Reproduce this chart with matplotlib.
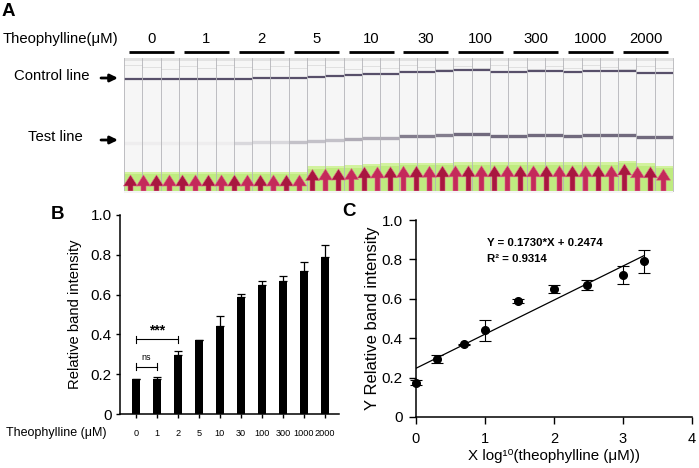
import numpy as np
import matplotlib
matplotlib.use('Agg')
import matplotlib.pyplot as plt
from matplotlib.patches import Rectangle, Polygon

plt.rcParams['font.family'] = ['Liberation Sans', 'DejaVu Sans']

# ---------------- data ----------------
conc_labels = ['0', '1', '2', '5', '10', '30', '100', '300', '1000', '2000']
band_intensity = [0.175, 0.175, 0.295, 0.37, 0.44, 0.59, 0.65, 0.67, 0.72, 0.79]
band_error = [0.003, 0.012, 0.02, 0.003, 0.053, 0.011, 0.02, 0.025, 0.045, 0.057]
log_conc = [0.0, 0.301, 0.699, 1.0, 1.477, 2.0, 2.477, 3.0, 3.301]
fit_intensity = band_intensity[1:]
fit_error = band_error[1:]
fit_slope = 0.1730
fit_intercept = 0.2474
fit_r2 = 0.9314
y_ticks = [0, 0.2, 0.4, 0.6, 0.8, 1.0]
y_tick_labels = ['0', '0.2', '0.4', '0.6', '0.8', '1.0']
c_x_ticks = [0, 1, 2, 3, 4]

# photo of the strips (3 strips per concentration), pixel geometry of the photo
control_line_y = [79.3, 79.3, 79.0, 79.0, 79.0, 79.0, 78.5, 78.3, 78.0, 77.5,
                  76.7, 76.0, 75.0, 74.0, 74.0, 71.7, 71.7, 70.5, 70.0, 70.0,
                  71.7, 71.7, 70.7, 70.7, 71.7, 70.7, 70.7, 70.7, 72.7, 73.3]
green_top_y = [171.5] * 10 + [166, 165.5, 165, 163.5, 163.3, 162.7, 162.7, 162.5, 162.3, 162.3,
                              162.3, 162.3, 162.3, 162.3, 162.3, 162.3, 162.3, 160.5, 163.3, 165.7]

W, H = 699, 468
fig = plt.figure(figsize=(W / 100, H / 100), dpi=100)

# ---------------- panel A (pixel coordinates) ----------------
axA = fig.add_axes([0, 0, 1, 1])
axA.set_xlim(0, W)
axA.set_ylim(H, 0)
axA.axis('off')

txt_fs = 10.7
axA.text(2, 12, 'A', fontsize=13.5, fontweight='bold', va='center', ha='left')
axA.text(3, 38.5, 'Theophylline(μM)', fontsize=txt_fs, va='center', ha='left')

strip_x0, strip_w = 124.0, 18.3
photo_top, photo_bottom = 58.0, 193.0
n_strips = len(control_line_y)
for i, lab in enumerate(conc_labels):
    cx = strip_x0 + (3 * i + 1.5) * strip_w
    axA.text(cx, 39, lab, fontsize=txt_fs, ha='center', va='center')
    axA.plot([cx - 22.5, cx + 22.5], [52, 52], color='black', lw=2.0, solid_capstyle='butt')

axA.text(14, 76, 'Control line', fontsize=txt_fs, va='center', ha='left')
axA.text(28, 137, 'Test line', fontsize=txt_fs, va='center', ha='left')
for yy in (78, 140):
    axA.annotate('', xy=(118, yy), xytext=(101, yy),
                 arrowprops=dict(arrowstyle='-|>,head_length=0.45,head_width=0.22',
                                 lw=2.0, color='black', shrinkA=0, shrinkB=0))

# photo background
axA.add_patch(Rectangle((strip_x0, photo_top), n_strips * strip_w, photo_bottom - photo_top,
                        facecolor='#efefef', edgecolor='none', zorder=1))
for s in range(n_strips):
    x0 = strip_x0 + s * strip_w
    g = s // 3
    axA.add_patch(Rectangle((x0, photo_top), strip_w, photo_bottom - photo_top,
                            facecolor='#f6f6f6', edgecolor='none', zorder=1.2))
    # strip head
    head_h = 4 + (s * 7 % 5)
    axA.add_patch(Rectangle((x0, photo_top), strip_w, 2.5, facecolor='#e2e2e2',
                            edgecolor='none', zorder=1.3))
    axA.plot([x0, x0 + strip_w], [photo_top + 2.5 + head_h] * 2, color='#dcdcdc', lw=0.6, zorder=1.3)
    # control line
    cy = control_line_y[s]
    axA.plot([x0, x0 + strip_w], [cy, cy], color='#58506a', lw=1.6, zorder=2,
             solid_capstyle='butt')
    # test line, darkness follows the band intensity of the group
    a = float(np.clip((band_intensity[g] - 0.2) / 0.45, 0.06, 1.0))
    axA.plot([x0, x0 + strip_w], [cy + 64, cy + 64], color='#5a5268', lw=2.4, alpha=0.85 * a,
             zorder=2, solid_capstyle='butt')
    # green pad
    gt = green_top_y[s]
    axA.add_patch(Rectangle((x0, gt), strip_w, photo_bottom - 2 - gt, facecolor='#bfeb80',
                            edgecolor='none', zorder=2))
    axA.add_patch(Rectangle((x0, gt), strip_w, 2.5, facecolor='#d2f29e',
                            edgecolor='none', zorder=2.1))
    # separators
    axA.plot([x0, x0], [photo_top, photo_bottom - 2], color='#b4b4b8', lw=0.6, zorder=2.5)
axA.plot([strip_x0 + n_strips * strip_w] * 2, [photo_top, photo_bottom - 2], color='#b4b4b8', lw=0.6, zorder=2.5)

# red arrows on the sample pads
arrow_step = 13.0
n_arrows = int(n_strips * strip_w / arrow_step)
for k in range(n_arrows):
    cx = strip_x0 + (k + 0.5) * arrow_step
    s = min(int((cx - strip_x0) // strip_w), n_strips - 1)
    tip = green_top_y[s] + 3.5
    base = photo_bottom - 2
    mid = tip + 11
    col = '#a8173f' if k % 2 == 0 else '#c42a5a'
    poly = [(cx - 7, mid), (cx, tip), (cx + 7, mid), (cx + 2.5, mid), (cx + 2.5, base),
            (cx - 2.5, base), (cx - 2.5, mid)]
    axA.add_patch(Polygon(poly, closed=True, facecolor=col, edgecolor='#e0608a', lw=0.4, zorder=3))
axA.add_patch(Rectangle((strip_x0, photo_bottom - 2.5), n_strips * strip_w, 2.5,
                        facecolor='#f4f4f4', edgecolor='none', zorder=3.5))

# ---------------- panel B ----------------
axB = fig.add_axes([120 / W, 1 - 414 / H, (339 - 120) / W, (414 - 215) / H])
axB.set_facecolor('none')
xb = np.arange(len(conc_labels))
axB.bar(xb, band_intensity, width=0.41, color='black', zorder=2)
axB.errorbar(xb, band_intensity, yerr=[np.zeros(len(xb)), band_error], fmt='none',
             ecolor='black', elinewidth=0.9, capsize=3.2, capthick=0.9, zorder=3)
axB.set_xlim(-0.76, 9.67)
axB.set_ylim(0, 1)
axB.set_xticks(xb)
axB.set_xticklabels(conc_labels, fontsize=6.6)
axB.set_yticks(y_ticks)
axB.set_yticklabels(y_tick_labels, fontsize=11)
for sp in ('top', 'right'):
    axB.spines[sp].set_visible(False)
for sp in ('left', 'bottom'):
    axB.spines[sp].set_linewidth(1.1)
axB.tick_params(axis='both', direction='out', length=3, width=1.0)
axB.tick_params(axis='x', pad=7.5)
axB.tick_params(axis='y', pad=3)
axB.set_ylabel('Relative band intensity', fontsize=10.6, va='center')
axB.yaxis.set_label_coords((75 - 120) / 219, 0.5)
fig.text(107 / W, 1 - 433 / H, 'Theophylline (μM)', fontsize=9, ha='right', va='center')
fig.text(57 / W, 1 - 215 / H, 'B', fontsize=13.5, fontweight='bold', ha='center', va='center')

# significance brackets
def bracket(x1, x2, y, label, fs, weight, dy):
    axB.plot([x1, x2], [y, y], color='black', lw=0.8)
    for xx in (x1, x2):
        axB.plot([xx, xx], [y - 0.017, y + 0.017], color='black', lw=0.8)
    axB.text((x1 + x2) / 2, y + dy, label, fontsize=fs, fontweight=weight, ha='center', va='center')

bracket(xb[0], xb[2], 0.376, '***', 10, 'bold', 0.042)
bracket(xb[0], xb[1], 0.237, 'ns', 6.5, 'normal', 0.045)

# ---------------- panel C ----------------
axC = fig.add_axes([416 / W, 1 - 417 / H, 276 / W, 197 / H])
axC.set_facecolor('none')
axC.errorbar(log_conc, fit_intensity, yerr=fit_error, fmt='o', color='black', markersize=5.5,
             ecolor='black', elinewidth=0.8, capsize=4, capthick=0.8, clip_on=False, zorder=3)
xf = np.array([0, max(log_conc)])
axC.plot(xf, fit_slope * xf + fit_intercept, color='black', lw=0.9, zorder=2)
axC.set_xlim(0, 4)
axC.set_ylim(0, 1)
axC.set_xticks(c_x_ticks)
axC.set_xticklabels([str(v) for v in c_x_ticks], fontsize=10.5)
axC.set_yticks(y_ticks)
axC.set_yticklabels(y_tick_labels, fontsize=11)
for sp in ('top', 'right'):
    axC.spines[sp].set_visible(False)
for sp in ('left', 'bottom'):
    axC.spines[sp].set_linewidth(1.1)
axC.tick_params(axis='both', direction='out', length=5, width=1.0)
axC.tick_params(axis='x', pad=5.5)
axC.tick_params(axis='y', pad=4.5)
axC.set_ylabel('Y Relative band intensity', fontsize=12, va='center')
axC.yaxis.set_label_coords((372 - 416) / 276, 0.5)
axC.set_xlabel('X log¹⁰(theophylline (μM))', fontsize=10.9, va='center')
axC.xaxis.set_label_coords(0.5, (417 - 456) / 197)
axC.text((487 - 416) / 276, (417 - 243) / 197,
         'Y = %.4f*X + %.4f' % (fit_slope, fit_intercept),
         transform=axC.transAxes, fontsize=8.2, fontweight='bold',
         ha='left', va='center')
axC.text((487 - 416) / 276, (417 - 259) / 197, 'R² = %.4f' % fit_r2,
         transform=axC.transAxes, fontsize=8.2, fontweight='bold',
         ha='left', va='center')
fig.text(349 / W, 1 - 211 / H, 'C', fontsize=13.5, fontweight='bold', ha='center', va='center')

fig.savefig('out.png', dpi=100)
